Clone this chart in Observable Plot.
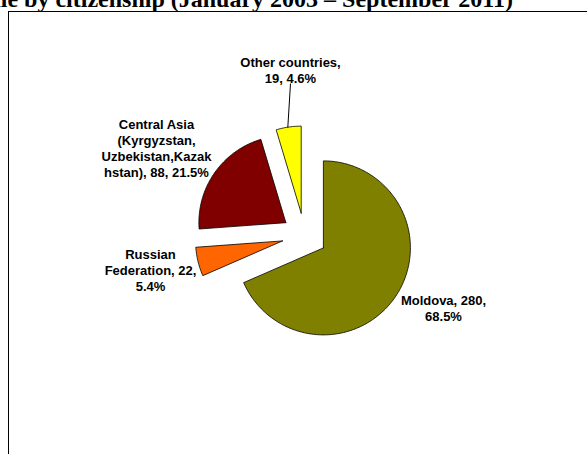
<!DOCTYPE html>
<html>
<head>
<meta charset="utf-8">
<script src="https://cdn.jsdelivr.net/npm/d3@7"></script>
<script src="https://cdn.jsdelivr.net/npm/@observablehq/plot@0.6"></script>
<style>
  html, body { margin: 0; padding: 0; background: #fff; overflow: hidden; }
  #wrap { position: relative; width: 587px; height: 454px; overflow: hidden; }
  #title { position: absolute; right: 74px; top: -15.6px; white-space: nowrap;
           font-family: "Liberation Serif", "Times New Roman", serif; font-weight: bold;
           font-size: 24px; line-height: 30px; color: #000; }
  #box { position: absolute; left: 8px; top: 11px; width: 620px; height: 500px;
         border: 1.2px solid #000; box-sizing: border-box; }
  #chart { position: absolute; left: 0; top: 0; }
</style>
</head>
<body>
<div id="wrap">
  <div id="title">Identified victims of trafficking, female by citizenship (January 2003 – September 2011)</div>
  <div id="box"></div>
  <div id="chart"></div>
</div>
<script>
// ---- data ----
const categories = ["Moldova", "Russian Federation", "Central Asia (Kyrgyzstan, Uzbekistan,Kazakhstan)", "Other countries"];
const counts = [280, 22, 88, 19];
const percents = ["68.5%", "5.4%", "21.5%", "4.6%"];
const labelLines = [
  ["Moldova, 280,", "68.5%"],
  ["Russian", "Federation, 22,", "5.4%"],
  ["Central Asia", "(Kyrgyzstan,", "Uzbekistan,Kazak", "hstan), 88, 21.5%"],
  ["Other countries,", "19, 4.6%"]
];
const colors = ["#808000", "#FF6600", "#800000", "#FFFF00"];

// ---- layout (pixels) ----
const W = 587, H = 454;
const cx = 304, cy = 235, R = 87;       // pie centre and radius
const explode = 22.6 / R;              // explosion distance (fraction of radius)
const labelPos = [[443, 307], [150, 269], [156, 147.5], [290, 69.2]];
const leader = {x1: 290, y1: 83, x2: 287.3, y2: 127};

// unit coordinates: pie radius = 1, y up
const ux = px => (px - cx) / R;
const uy = py => (cy - py) / R;

const total = d3.sum(counts);
const slices = [];
let acc = 0;
counts.forEach((c, i) => {
  const a0 = acc / total * 2 * Math.PI;
  acc += c;
  const a1 = acc / total * 2 * Math.PI;
  const mid = (a0 + a1) / 2;
  const ox = explode * Math.sin(mid), oy = explode * Math.cos(mid);
  const n = Math.max(4, Math.ceil((a1 - a0) / (Math.PI / 180)));
  slices.push({cat: categories[i], x: ox, y: oy});
  for (let k = 0; k <= n; k++) {
    const a = a0 + (a1 - a0) * k / n;
    slices.push({cat: categories[i], x: ox + Math.sin(a), y: oy + Math.cos(a)});
  }
  slices.push({cat: categories[i], x: ox, y: oy});
});

const labels = categories.map((c, i) => ({
  cat: c,
  text: labelLines[i].join("\n"),
  x: ux(labelPos[i][0]),
  y: uy(labelPos[i][1])
}));

const chart = Plot.plot({
  width: W, height: H,
  margin: 0,
  style: {background: "transparent"},
  x: {domain: [ux(0), ux(W)], range: [0, W], axis: null},
  y: {domain: [uy(H), uy(0)], range: [H, 0], axis: null},
  color: {domain: categories, range: colors},
  marks: [
    Plot.line(slices, {x: "x", y: "y", z: "cat", fill: "cat", stroke: "#000", strokeWidth: 0.8, curve: "linear"}),
    Plot.link([leader], {x1: d => ux(d.x1), y1: d => uy(d.y1), x2: d => ux(d.x2), y2: d => uy(d.y2), stroke: "#000", strokeWidth: 1}),
    Plot.text(labels, {x: "x", y: "y", text: "text", textAnchor: "middle", lineAnchor: "middle",
      lineHeight: 1.23, fontSize: 13, fontWeight: "bold", fill: "#000",
      fontFamily: "Liberation Sans, Arial, sans-serif"})
  ]
});
document.getElementById("chart").appendChild(chart);
</script>
</body>
</html>
